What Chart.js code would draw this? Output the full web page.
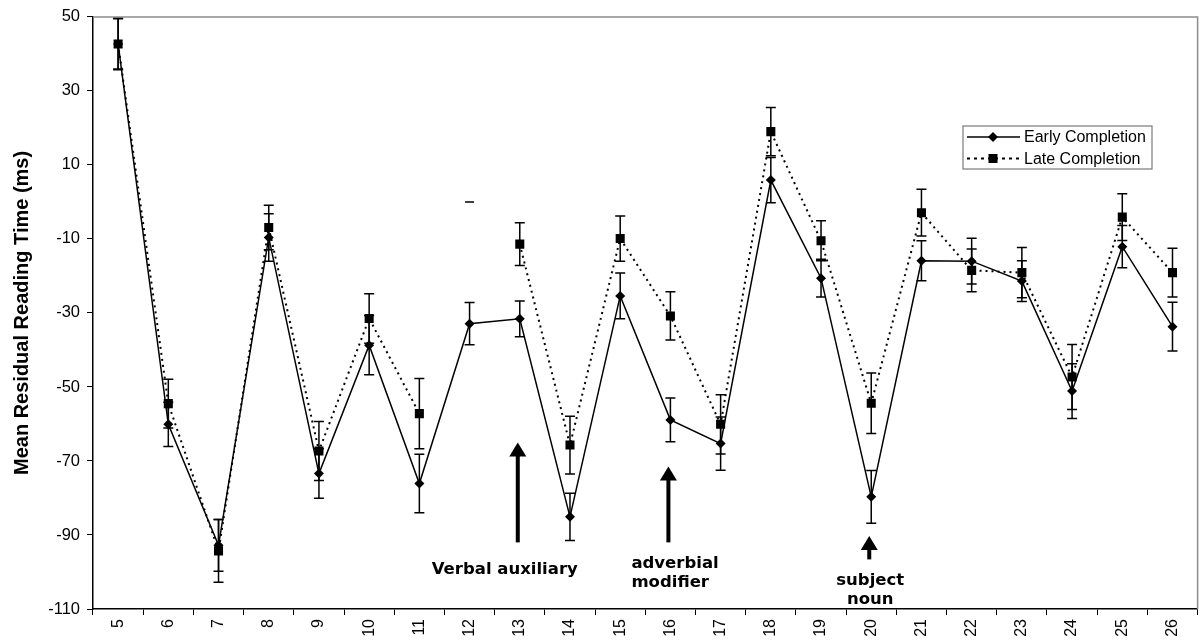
<!DOCTYPE html>
<html>
<head>
<meta charset="utf-8">
<title>Mean Residual Reading Time</title>
<script src="https://cdn.jsdelivr.net/npm/chart.js@4.4.1/dist/chart.umd.min.js"></script>
<style>
  body{ margin:0; background:#fff; }
  #wrap{ width:1204px; height:640px; }
</style>
</head>
<body>
<div id="wrap"><canvas id="rtChart" width="1204" height="640"></canvas></div>
<script>
// Regions (word positions)
const regions = ['5','6','7','8','9','10','11','12','13','14','15','16','17','18','19','20','21','22','23','24','25','26'];

// Early completion means + error
const early    = [42.7, -60.1, -92.8, -9.6, -73.4, -38.7, -76.1, -32.9, -31.6, -85.1, -25.4, -58.9, -65.3, 5.9, -20.6, -79.7, -15.9, -16.0, -21.4, -51.1, -12.1, -33.7];
const earlyErr = [7, 6, 7, 6.4, 6.7, 8, 7.9, 5.7, 4.8, 6.4, 6.2, 5.9, 7.2, 6.1, 5.1, 7.1, 5.4, 6.2, 5.5, 7.4, 5.7, 6.6];

// Late completion means + error (no value for region 12)
const late    = [42.7, -54.5, -94.3, -6.9, -67.3, -31.5, -57.2, null, -11.4, -65.7, -9.9, -30.8, -60.1, 19.0, -10.5, -54.4, -2.9, -18.5, -19.1, -47.3, -4.1, -19.1];
const lateErr = [6.8, 6.6, 8.5, 6, 8, 6.7, 9.5, 0, 5.8, 7.8, 6.1, 6.5, 8, 6.5, 5.4, 8.2, 6.3, 5.8, 6.8, 8.8, 6.3, 6.6];

// stray zero-length bar left at region 12
const lateStray = [null, null, null, null, null, null, null, 0, null, null, null, null, null, null, null, null, null, null, null, null, null, null];

// y axis
const yMin = -110, yMax = 50, yStep = 20;

// Arrow annotations
const noteRegions = ['13', '16', '20'];
const noteTips    = [-65, -71.5, -90.3];
const noteBases   = [-92, -92, -96.6];
const noteTexts   = [['Verbal auxiliary'], ['adverbial', 'modifier'], ['subject', 'noun']];

const FONT = "'Liberation Sans', Arial, sans-serif";
const NOTE_FONT = "bold 16.5px 'DejaVu Sans', Verdana, sans-serif";

// Error bars
const errorBars = {
  id: 'errorBars',
  afterDatasetsDraw(chart){
    const {ctx, scales:{x, y}} = chart;
    ctx.save();
    ctx.strokeStyle = '#000';
    ctx.lineWidth = 1.5;
    [[late, lateErr], [early, earlyErr]].forEach(([vals, errs])=>{
      vals.forEach((v, i)=>{
        if(v === null) return;
        const px = x.getPixelForValue(i);
        const top = y.getPixelForValue(v + errs[i]);
        const bot = y.getPixelForValue(v - errs[i]);
        ctx.beginPath();
        ctx.moveTo(px, top); ctx.lineTo(px, bot);
        ctx.moveTo(px - 5, top); ctx.lineTo(px + 5, top);
        ctx.moveTo(px - 5, bot); ctx.lineTo(px + 5, bot);
        ctx.stroke();
      });
    });
    ctx.restore();
  }
};

// Frame, arrows, notes and legend box
const extras = {
  id: 'extras',
  afterDraw(chart){
    const {ctx, chartArea:a, scales:{x, y}} = chart;
    ctx.save();

    // grey top/right frame
    ctx.strokeStyle = '#8c8c8c';
    ctx.lineWidth = 1.5;
    ctx.beginPath();
    ctx.moveTo(a.left, a.top); ctx.lineTo(a.right, a.top); ctx.lineTo(a.right, a.bottom);
    ctx.stroke();

    // arrows
    ctx.fillStyle = '#000';
    noteRegions.forEach((r, i)=>{
      const px = x.getPixelForValue(regions.indexOf(r)) - 2;
      const tip = y.getPixelForValue(noteTips[i]);
      const base = y.getPixelForValue(noteBases[i]);
      ctx.fillRect(px - 2, tip + 10, 4, base - tip - 10);
      ctx.beginPath();
      ctx.moveTo(px, tip);
      ctx.lineTo(px - 8.5, tip + 14);
      ctx.lineTo(px + 8.5, tip + 14);
      ctx.closePath();
      ctx.fill();
    });

    // note text
    ctx.font = NOTE_FONT;
    ctx.textBaseline = 'middle';
    const layout = [
      {dx: -15, dy: 27, align: 'center'},
      {dx: -39, dy: 21, align: 'left'},
      {dx: -1,  dy: 21, align: 'center'}
    ];
    noteTexts.forEach((lines, i)=>{
      const px = x.getPixelForValue(regions.indexOf(noteRegions[i]));
      const base = y.getPixelForValue(noteBases[i]);
      ctx.textAlign = layout[i].align;
      lines.forEach((t, j)=> ctx.fillText(t, px + layout[i].dx, base + layout[i].dy + j * 19));
    });

    // legend
    const lx = 963, ly = 126, lw = 189, lh = 43;
    ctx.fillStyle = '#fff';
    ctx.fillRect(lx, ly, lw, lh);
    ctx.strokeStyle = '#7a7a7a';
    ctx.lineWidth = 1.2;
    ctx.strokeRect(lx, ly, lw, lh);
    ctx.strokeStyle = '#000';
    ctx.fillStyle = '#000';
    const rows = [
      {label: 'Early Completion', dash: [], width: 1.5, style: 'diamond'},
      {label: 'Late Completion', dash: [3, 4], width: 2, style: 'square'}
    ];
    rows.forEach((r, i)=>{
      const cy = ly + 11 + i * 21.5;
      ctx.setLineDash(r.dash);
      ctx.lineWidth = r.width;
      ctx.beginPath();
      ctx.moveTo(lx + 4, cy); ctx.lineTo(lx + 57, cy);
      ctx.stroke();
      ctx.setLineDash([]);
      const mx = lx + 30;
      ctx.beginPath();
      if(r.style === 'diamond'){
        ctx.moveTo(mx, cy - 5); ctx.lineTo(mx + 5, cy); ctx.lineTo(mx, cy + 5); ctx.lineTo(mx - 5, cy);
      }else{
        ctx.rect(mx - 4.5, cy - 4.5, 9, 9);
      }
      ctx.closePath();
      ctx.fill();
      ctx.font = '16px ' + FONT;
      ctx.textAlign = 'left';
      ctx.fillText(r.label, lx + 61, cy + 1);
    });

    ctx.restore();
  }
};

const ctx = document.getElementById('rtChart').getContext('2d');

new Chart(ctx, {
  type: 'line',
  data: {
    labels: regions,
    datasets: [
      {
        label: 'Late Completion',
        data: late,
        order: 0,
        borderColor: '#000',
        backgroundColor: '#000',
        borderWidth: 2,
        borderDash: [2, 4],
        pointStyle: 'rect',
        pointRadius: 6.4,
        pointBorderWidth: 0,
        spanGaps: false,
        tension: 0
      },
      {
        label: 'Early Completion',
        data: early,
        order: 1,
        borderColor: '#000',
        backgroundColor: '#000',
        borderWidth: 1.5,
        pointStyle: 'rectRot',
        pointRadius: 5,
        pointBorderWidth: 0,
        tension: 0
      },
      {
        label: 'stray',
        data: lateStray,
        order: 2,
        showLine: false,
        borderColor: '#000',
        backgroundColor: '#000',
        pointStyle: 'line',
        pointRadius: 4.5,
        pointBorderWidth: 1.5
      }
    ]
  },
  options: {
    responsive: false,
    devicePixelRatio: 1,
    animation: false,
    layout: { padding: { top: 16, right: 4, left: 0, bottom: 0 } },
    plugins: {
      legend: { display: false },
      tooltip: { enabled: false }
    },
    scales: {
      x: {
        type: 'category',
        offset: true,
        afterFit: (s)=>{ s.height = 31; },
        grid: { offset: true, drawOnChartArea: false, drawTicks: true, tickLength: 6, color: '#000' },
        border: { color: '#000', width: 1.5 },
        ticks: {
          autoSkip: false,
          minRotation: 90,
          maxRotation: 90,
          padding: 4,
          color: '#000',
          font: { family: FONT, size: 16 }
        }
      },
      y: {
        min: yMin,
        max: yMax,
        afterFit: (s)=>{ s.width = 93; },
        grid: { drawOnChartArea: false, drawTicks: true, tickLength: 6, color: '#000' },
        border: { color: '#000', width: 1.5 },
        ticks: {
          stepSize: yStep,
          padding: 7,
          color: '#000',
          font: { family: FONT, size: 16.5 }
        },
        title: {
          display: true,
          text: 'Mean Residual Reading Time (ms)',
          color: '#000',
          padding: { top: 10, bottom: 0 },
          font: { family: FONT, size: 20, weight: 'bold' }
        }
      }
    }
  },
  plugins: [errorBars, extras]
});
</script>
</body>
</html>
